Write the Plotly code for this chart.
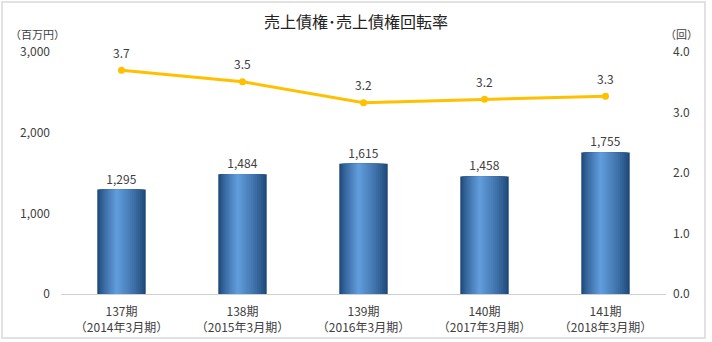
import plotly.graph_objects as go

categories = ["137期<br>（2014年3月期）", "138期<br>（2015年3月期）", "139期<br>（2016年3月期）",
              "140期<br>（2017年3月期）", "141期<br>（2018年3月期）"]
receivables = [1295, 1484, 1615, 1458, 1755]
turnover = [3.70, 3.51, 3.16, 3.22, 3.27]
turnover_labels = ["3.7", "3.5", "3.2", "3.2", "3.3"]
left_ticks = [0, 1000, 2000, 3000]
right_ticks = [0, 1, 2, 3, 4]

FONT = "Noto Sans CJK JP"
TXT = "#404040"

fig = go.Figure()

# gradient bars built from overlaid layers
dark = (30, 72, 120)
light = (100, 160, 225)
L, R = -0.2, 0.2
P = L + 0.4 * (R - L)
N = 14
for k in range(N + 1):
    f = k / (N + 1)
    left = L + (P - L) * f
    right = R - (R - P) * f
    c = tuple(int(dark[i] + (light[i] - dark[i]) * (f ** 0.8)) for i in range(3))
    fig.add_trace(go.Bar(
        x=categories, y=receivables, width=right - left, offset=left,
        marker=dict(color="rgb(%d,%d,%d)" % c, line=dict(width=0)),
        hoverinfo="skip", showlegend=False,
        text=[f"{v:,}" for v in receivables] if k == 0 else None,
        textposition="outside" if k == 0 else "none",
        textfont=dict(family=FONT, size=12, color=TXT),
        cliponaxis=False,
    ))

fig.add_trace(go.Scatter(
    x=categories, y=turnover, yaxis="y2", mode="lines+markers",
    line=dict(color="#FFC000", width=3),
    marker=dict(color="#FFC000", size=7),
    showlegend=False, cliponaxis=False,
))

annotations = [
    dict(text="（百万円）", xref="paper", yref="paper", x=(8 - 61) / 605, y=(294 - 34) / 242,
         xanchor="left", yanchor="middle", showarrow=False,
         font=dict(family=FONT, size=11, color=TXT)),
    dict(text="（回）", xref="paper", yref="paper", x=(700 - 61) / 605, y=(294 - 34) / 242,
         xanchor="right", yanchor="middle", showarrow=False,
         font=dict(family=FONT, size=11, color=TXT)),
]
for cat, v, lab in zip(categories, turnover, turnover_labels):
    annotations.append(dict(text=lab, x=cat, y=v, xref="x", yref="y2", yshift=18,
                            xanchor="center", yanchor="middle", showarrow=False,
                            font=dict(family=FONT, size=12, color=TXT)))

fig.update_layout(
    width=712, height=342,
    margin=dict(l=61, r=46, t=52, b=48, autoexpand=False),
    paper_bgcolor="white", plot_bgcolor="white",
    barmode="overlay", bargap=0.6,
    font=dict(family=FONT, color=TXT, size=12),
    title=dict(text="売上債権･売上債権回転率", x=0.5, xanchor="center", y=0.935,
               yanchor="middle", font=dict(family=FONT, size=16, color="#222222")),
    xaxis=dict(showgrid=False, showline=True, linecolor="#d0d0d0", linewidth=1, automargin=False,
               ticks="", ticklabelstandoff=7, tickfont=dict(family=FONT, size=12, color=TXT)),
    yaxis=dict(range=[0, 3000], tickvals=left_ticks, tickformat=",", showgrid=False, automargin=False,
               zeroline=False, showline=False, ticks="", ticklabelstandoff=10,
               tickfont=dict(family=FONT, size=12, color=TXT)),
    yaxis2=dict(range=[0, 4], tickvals=right_ticks, tickformat=".1f", overlaying="y", automargin=False,
                side="right", showgrid=False, zeroline=False, showline=False, ticks="",
                ticklabelstandoff=6, tickfont=dict(family=FONT, size=12, color=TXT)),
    annotations=annotations,
    shapes=[dict(type="rect", xref="paper", yref="paper",
                 x0=(2 - 61) / 605, x1=(705 - 61) / 605,
                 y0=(294 - 338) / 242, y1=(294 - 2) / 242,
                 line=dict(color="#d9d9d9", width=1.5), fillcolor="rgba(0,0,0,0)", layer="below")],
)

fig.write_html("out.html")
